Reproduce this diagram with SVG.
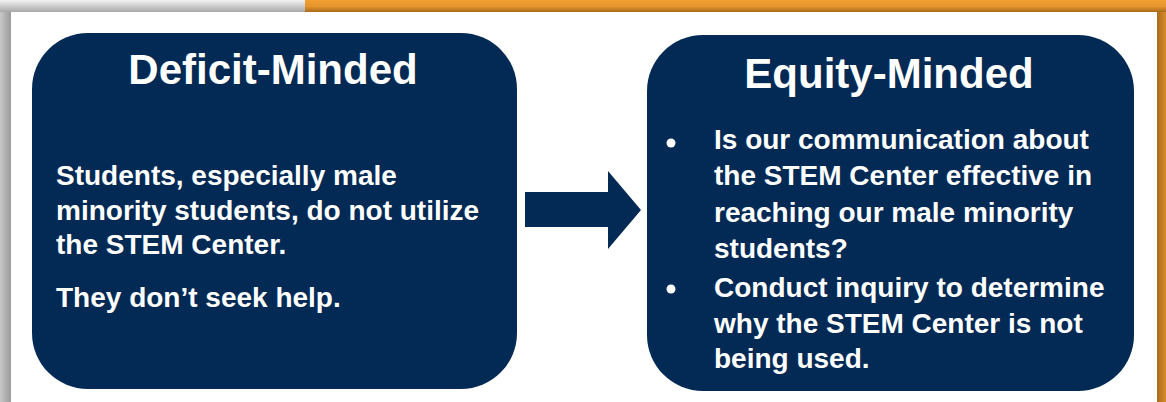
<svg xmlns="http://www.w3.org/2000/svg" width="1166" height="402" viewBox="0 0 1166 402">
<defs>
<linearGradient id="grayTop" x1="0" y1="0" x2="0" y2="1">
<stop offset="0" stop-color="#f2f2f2"/><stop offset="1" stop-color="#a8a8a8"/>
</linearGradient>
<linearGradient id="orangeTop" x1="0" y1="0" x2="0" y2="1">
<stop offset="0" stop-color="#f2a131"/><stop offset="0.55" stop-color="#e4922a"/><stop offset="1" stop-color="#a86c1c"/>
</linearGradient>
<linearGradient id="grayLeft" x1="0" y1="0" x2="1" y2="0">
<stop offset="0" stop-color="#c8c8c8"/><stop offset="1" stop-color="#9a9a9a"/>
</linearGradient>
<linearGradient id="orangeRight" x1="0" y1="0" x2="1" y2="0">
<stop offset="0" stop-color="#a86c1c"/><stop offset="1" stop-color="#d88c28"/>
</linearGradient>
<style>
.box{fill:#022a55}
.title{font-family:"Liberation Sans",Arial,sans-serif;font-weight:bold;font-size:42px;fill:#ffffff;text-anchor:middle}
.body{font-family:"Liberation Sans",Arial,sans-serif;font-weight:bold;font-size:28px;fill:#ffffff}
.bullet{fill:#ffffff}
</style>
</defs>
<rect x="0" y="0" width="1166" height="402" fill="#ffffff"/>
<g id="frame">
<rect x="0" y="0" width="305" height="12" fill="url(#grayTop)"/>
<rect x="305" y="0" width="861" height="12" fill="url(#orangeTop)"/>
<rect x="0" y="12" width="11" height="390" fill="url(#grayLeft)"/>
<rect x="1157" y="12" width="9" height="390" fill="url(#orangeRight)"/>
</g>
<g id="deficit">
<rect class="box" x="32" y="33" width="485" height="356" rx="56" ry="56"/>
<text class="title" x="273" y="84">Deficit-Minded</text>
<text class="body" x="56" y="185">Students, especially male</text>
<text class="body" x="56" y="220">minority students, do not utilize</text>
<text class="body" x="56" y="254">the STEM Center.</text>
<text class="body" x="56" y="307">They don’t seek help.</text>
</g>
<g id="equity">
<rect class="box" x="647" y="35" width="487" height="356" rx="56" ry="56"/>
<text class="title" x="889" y="88">Equity-Minded</text>
<circle class="bullet" cx="671" cy="143" r="4.5"/>
<text class="body" x="714" y="149">Is our communication about</text>
<text class="body" x="714" y="185">the STEM Center effective in</text>
<text class="body" x="714" y="222">reaching our male minority</text>
<text class="body" x="714" y="258">students?</text>
<circle class="bullet" cx="671" cy="289" r="4.5"/>
<text class="body" x="714" y="297">Conduct inquiry to determine</text>
<text class="body" x="714" y="333">why the STEM Center is not</text>
<text class="body" x="714" y="368">being used.</text>
</g>
<g id="connectors">
<polygon class="box" points="525,192 608,192 608,171 641,210 608,249 608,227 525,227"/>
</g>
</svg>
